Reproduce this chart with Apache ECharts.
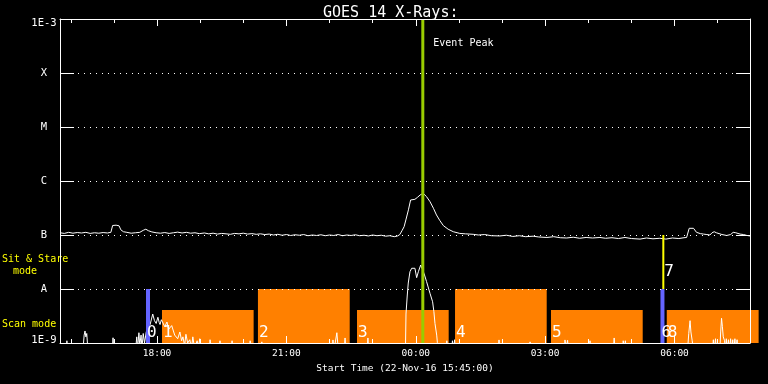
<!DOCTYPE html>
<html><head><meta charset="utf-8">
<script src="https://cdn.jsdelivr.net/npm/echarts@6/dist/echarts.min.js"></script>
<style>html,body{margin:0;padding:0;background:#000}#c{width:768px;height:384px}</style>
</head><body><div id="c"></div>
<script>
const FONT = '"DejaVu Sans Mono", monospace';
const ORANGE = '#ff8000';
const BLUE = '#6464ff';
const YELLOW = '#ffff00';
const PEAKCOL = '#99cc00';

// axes
const yLevels = [1e-9, 1e-8, 1e-7, 1e-6, 1e-5, 1e-4, 1e-3];
const yLabels = ['1E-9', 'A', 'B', 'C', 'M', 'X', '1E-3'];
const tickHours = [18, 21, 24, 27, 30];
const tickLabels = ['18:00', '21:00', '00:00', '03:00', '06:00'];
const minorHours = [16, 17, 19, 20, 22, 23, 25, 26, 28, 29, 31];
const xMin = 15.75, xMax = 31.75;   // 22-Nov-16 15:45 -> 23-Nov 07:45 (hours from 22-Nov 00:00)

// GOES 1-8 A channel, time (h) and flux (x1e-7 W/m2)
const longTime = [15.75,15.85,15.95,16.05,16.15,16.25,16.35,16.45,16.55,16.65,16.75,16.85,16.93,16.97,17.05,17.12,17.16,17.22,17.30,17.40,17.50,17.60,17.68,17.74,17.80,17.88,17.98,18.08,18.18,18.28,18.38,18.48,18.58,18.68,18.78,18.88,18.98,19.1,19.2,19.3,19.4,19.5,19.6,19.7,19.8,19.9,20.0,20.1,20.2,20.3,20.4,20.5,20.6,20.7,20.8,20.9,21.0,21.1,21.2,21.3,21.4,21.5,21.6,21.7,21.8,21.9,22.0,22.1,22.2,22.3,22.4,22.5,22.6,22.7,22.8,22.9,23.0,23.1,23.2,23.3,23.4,23.5,23.58,23.63,23.68,23.73,23.77,23.83,23.88,23.98,24.04,24.10,24.17,24.25,24.33,24.41,24.48,24.56,24.64,24.75,24.87,25.02,25.15,25.33,25.45,25.6,25.75,25.95,26.1,26.25,26.4,26.55,26.72,26.85,27.04,27.2,27.35,27.5,27.65,27.8,27.95,28.1,28.27,28.4,28.55,28.7,28.85,29.0,29.2,29.35,29.5,29.66,29.8,29.95,30.1,30.22,30.28,30.34,30.38,30.44,30.51,30.6,30.67,30.75,30.82,30.87,30.92,30.97,31.01,31.1,31.21,31.3,31.36,31.42,31.52,31.6,31.68,31.75];
const longFlux = [1.10,1.07,1.12,1.08,1.11,1.09,1.12,1.07,1.10,1.08,1.11,1.09,1.12,1.50,1.52,1.48,1.25,1.15,1.12,1.08,1.10,1.12,1.22,1.28,1.20,1.14,1.10,1.08,1.11,1.07,1.10,1.13,1.09,1.12,1.08,1.10,1.06,1.09,1.05,1.08,1.04,1.07,1.05,1.03,1.07,1.05,1.08,1.04,1.06,1.03,1.05,1.02,1.04,1.00,1.03,0.99,1.02,0.98,1.01,0.99,1.02,0.97,1.00,0.98,1.01,0.97,1.00,0.98,1.02,0.97,1.00,0.98,1.01,0.97,0.99,0.96,1.00,0.97,0.99,0.95,0.97,0.93,0.96,1.02,1.20,1.43,1.90,2.93,4.45,4.58,4.99,5.50,5.92,5.12,4.14,3.12,2.35,1.84,1.49,1.28,1.15,1.07,1.05,1.03,1.00,1.02,0.97,0.96,0.99,0.94,0.97,0.93,0.95,0.92,0.90,0.93,0.89,0.88,0.91,0.87,0.90,0.88,0.90,0.87,0.89,0.86,0.90,0.86,0.84,0.88,0.85,0.87,0.84,0.88,0.86,0.89,0.90,1.33,1.43,1.33,1.12,1.06,1.04,1.02,1.00,1.10,1.15,1.10,1.04,1.02,0.98,1.02,1.12,1.10,1.04,1.02,0.98,0.96];

// GOES 0.5-4 A channel, time (h) and flux (x1e-9 W/m2); values below 1 fall under the plot floor
const shortTime = [15.75,15.89,15.91,15.93,16.28,16.31,16.33,16.35,16.37,16.40,16.96,16.98,17.00,17.50,17.53,17.55,17.58,17.60,17.63,17.65,17.68,17.71,17.75,17.79,17.84,17.88,17.90,17.94,17.98,18.02,18.05,18.07,18.10,18.14,18.18,18.23,18.27,18.30,18.34,18.37,18.41,18.44,18.48,18.53,18.57,18.60,18.64,18.67,18.71,18.76,18.80,18.83,18.87,18.93,18.96,18.99,19.03,19.21,19.23,19.26,19.44,19.46,19.48,19.72,19.74,19.76,20.14,20.16,20.18,20.41,20.43,20.45,22.06,22.08,22.10,22.14,22.17,22.20,22.34,22.36,22.38,22.87,22.89,22.91,23.76,23.773,23.803,23.826,23.865,23.905,23.98,24.02,24.06,24.114,24.137,24.19,24.25,24.33,24.39,24.42,24.445,24.485,24.50,24.52,24.70,24.72,24.74,24.83,24.85,24.88,24.90,24.92,25.91,25.93,25.95,26.63,26.65,26.67,27.44,27.46,27.49,27.52,27.54,28.02,28.04,28.06,28.58,28.60,28.62,28.79,28.81,28.84,28.86,28.88,30.30,30.33,30.36,30.38,30.41,30.44,30.88,30.90,30.92,30.95,30.97,31.05,31.07,31.09,31.11,31.13,31.16,31.18,31.20,31.22,31.25,31.27,31.30,31.32,31.35,31.37,31.40,31.42,31.45,31.47,31.75];
const shortFlux = [0.7,0.7,1.1,0.7,0.7,1.4,1.67,1.3,1.5,0.7,0.7,1.25,0.7,0.7,1.3,0.8,1.55,0.9,1.4,0.8,1.5,1.0,1.6,2.0,2.2,2.35,3.44,2.6,2.3,3.0,2.4,2.2,2.7,2.5,2.0,2.45,1.8,1.7,2.1,2.0,1.4,1.5,1.2,1.6,1.1,1.3,0.9,1.45,1.0,1.15,0.8,1.3,0.8,1.1,0.8,1.2,0.7,0.7,1.15,0.7,0.7,1.1,0.7,0.7,1.1,0.7,0.7,1.1,0.7,0.7,1.05,0.7,0.7,1.14,0.7,0.7,1.55,0.8,0.7,1.24,0.7,0.7,1.24,0.7,0.7,3.44,7.74,12.9,20.9,24.2,24.2,16.2,20.9,27.8,27.8,19.5,13.7,8.3,5.8,3.8,2.3,1.4,1.03,0.7,0.7,1.1,0.7,0.7,1.1,0.8,1.15,0.7,0.7,1.14,0.7,0.7,1.05,0.7,0.7,1.14,0.8,1.12,0.7,0.7,1.1,0.7,0.7,1.24,0.7,0.7,1.1,0.8,1.1,0.7,0.7,1.5,2.59,1.6,1.1,0.7,0.7,1.15,0.7,1.2,0.7,0.7,1.6,2.87,2.0,1.3,1.1,0.7,1.2,0.7,1.15,0.7,1.2,0.7,1.15,0.7,1.2,0.7,1.15,0.7,0.7];

// observing-mode blocks (orange)
const modeStart = [18.115, 20.34, 22.637, 24.91, 27.135, 29.82];
const modeEnd   = [20.24, 22.468, 24.763, 27.036, 29.262, 31.95];
const modeTop   = [4.08e-9, 1e-8, 4.08e-9, 1e-8, 4.08e-9, 4.08e-9];
const modeLabel = ['1', '2', '3', '4', '5', '8'];

// markers
const blueTime = [17.79, 29.72];
const blueLabel = ['0', '6'];
const yellowTime = [29.74];
const yellowLabel = ['7'];
const peakTime = 24.163;
const peakLabel = 'Event Peak';

const chart = echarts.init(document.getElementById('c'), null, {renderer: 'canvas'});

function baseX(extra) {
  return Object.assign({
    type: 'value', min: xMin, max: xMax, gridIndex: 0,
    splitLine: {show: false},
    axisLine: {show: false},
    axisLabel: {show: false},
    z: 10
  }, extra);
}
function tickStyle(len, vals) {
  return {show: true, inside: true, length: len, customValues: vals, lineStyle: {color: '#fff', width: 1}};
}

function vbarSeries(times, lo, hi, color, width, labels, z, extraText) {
  return {
    type: 'custom', z: z, clip: false, silent: true,
    data: times.map(t => [t, lo, hi]),
    renderItem: function (params, api) {
      const a = api.coord([api.value(0), api.value(1)]);
      const b = api.coord([api.value(0), api.value(2)]);
      const children = [{type: 'rect', shape: {x: a[0] - width / 2, y: b[1], width: width, height: a[1] - b[1]}, style: {fill: color}}];
      if (labels) {
        const lab = labels[params.dataIndex];
        children.push(labels.pos(lab, a, b, width));
      }
      if (extraText) children.push(extraText(a, b));
      return {type: 'group', children: children};
    }
  };
}

const blueLabels = Object.assign(blueLabel.slice(), {pos: (lab, a, b, w) => ({type: 'text', x: a[0] - w / 2 + 1, y: a[1] - 10, style: {text: lab, fill: '#fff', font: '16px ' + FONT, verticalAlign: 'middle'}})});
const yellowLabels = Object.assign(yellowLabel.slice(), {pos: (lab, a, b, w) => ({type: 'text', x: a[0] + 1, y: a[1] - 17, style: {text: lab, fill: '#fff', font: '16px ' + FONT, verticalAlign: 'middle'}})});

const option = {
  backgroundColor: '#000',
  animation: false,
  title: {
    text: 'GOES 14 X-Rays:', left: 318, top: 1,
    textStyle: {color: '#fff', fontSize: 15, fontWeight: 'normal', fontFamily: FONT}
  },
  grid: {left: 60, top: 19, width: 690, height: 324, containLabel: false},
  xAxis: [
    baseX({
      position: 'bottom',
      axisLine: {show: true, lineStyle: {color: '#fff', width: 1}},
      axisTick: tickStyle(7, tickHours),
      axisLabel: {show: true, customValues: tickHours, color: '#fff', fontSize: 9.5, fontFamily: FONT, margin: 6,
        formatter: v => tickLabels[tickHours.indexOf(Math.round(v))] || ''},
      name: 'Start Time (22-Nov-16 15:45:00)', nameLocation: 'middle', nameGap: 19,
      nameTextStyle: {color: '#fff', fontSize: 9.5, fontFamily: FONT}
    }),
    baseX({position: 'bottom', axisTick: tickStyle(4, minorHours)}),
    baseX({position: 'top', axisLine: {show: true, lineStyle: {color: '#fff', width: 1}}, axisTick: tickStyle(7, tickHours)}),
    baseX({position: 'top', axisTick: tickStyle(4, minorHours)})
  ],
  yAxis: [
    {
      type: 'log', logBase: 10, min: 1e-9, max: 1e-3, splitNumber: 6, position: 'left', z: 10,
      axisLine: {show: true, lineStyle: {color: '#fff', width: 1}},
      axisTick: {show: true, inside: true, length: 14, lineStyle: {color: '#fff', width: 1}},
      splitLine: {show: true, lineStyle: {color: '#fff', width: 1, type: [1, 5]}},
      axisLabel: {
        show: true, showMinLabel: true, showMaxLabel: true, color: '#fff', fontSize: 10.5, fontFamily: FONT,
        margin: 16, align: 'center',
        formatter: function (v) {
          const i = yLevels.findIndex(l => Math.abs(Math.log10(l) - Math.log10(v)) < 0.01);
          if (i < 0) return '';
          if (i === 0) return '{b|' + yLabels[i] + '}';
          if (i === yLevels.length - 1) return '{t|' + yLabels[i] + '}';
          return yLabels[i];
        },
        rich: {
          t: {color: '#fff', fontSize: 10.5, fontFamily: FONT, padding: [8, 0, 0, 0]},
          b: {color: '#fff', fontSize: 10.5, fontFamily: FONT, padding: [0, 0, 6, 0]}
        }
      }
    },
    {
      type: 'log', logBase: 10, min: 1e-9, max: 1e-3, splitNumber: 6, position: 'right', z: 10,
      axisLine: {show: true, lineStyle: {color: '#fff', width: 1}},
      axisTick: {show: true, inside: true, length: 14, lineStyle: {color: '#fff', width: 1}},
      splitLine: {show: false},
      axisLabel: {show: false}
    }
  ],
  graphic: [
    {type: 'text', x: 2, y: 259, style: {text: 'Sit & Stare', fill: YELLOW, font: '10px ' + FONT, verticalAlign: 'middle'}},
    {type: 'text', x: 13, y: 271, style: {text: 'mode', fill: YELLOW, font: '10px ' + FONT, verticalAlign: 'middle'}},
    {type: 'text', x: 2, y: 324, style: {text: 'Scan mode', fill: YELLOW, font: '10px ' + FONT, verticalAlign: 'middle'}}
  ],
  series: [
    {
      type: 'custom', z: 1, clip: false, silent: true,
      data: modeStart.map((s, i) => [s, modeEnd[i], modeTop[i]]),
      renderItem: function (params, api) {
        const a = api.coord([api.value(0), 1e-9]);
        const b = api.coord([api.value(1), api.value(2)]);
        return {type: 'group', children: [
          {type: 'rect', shape: {x: a[0], y: b[1], width: b[0] - a[0], height: a[1] - b[1]}, style: {fill: ORANGE}},
          {type: 'text', x: a[0] + 1, y: a[1] - 10, style: {text: modeLabel[params.dataIndex], fill: '#fff', font: '16px ' + FONT, verticalAlign: 'middle'}}
        ]};
      }
    },
    {
      type: 'line', z: 2, showSymbol: false, symbol: 'none', clip: true, silent: true,
      data: longTime.map((t, i) => [t, longFlux[i] * 1e-7]),
      lineStyle: {color: '#fff', width: 1}
    },
    {
      type: 'line', z: 2, showSymbol: false, symbol: 'none', clip: true, silent: true,
      data: shortTime.map((t, i) => [t, shortFlux[i] * 1e-9]),
      lineStyle: {color: '#fff', width: 1}
    },
    vbarSeries(blueTime, 1e-9, 1e-8, BLUE, 4, blueLabels, 3),
    vbarSeries(yellowTime, 1e-8, 1e-7, YELLOW, 2, yellowLabels, 3),
    vbarSeries([peakTime], 1e-9, 1e-3, PEAKCOL, 3, null, 3, (a, b) => ({
      type: 'text', x: a[0] + 10.5, y: b[1] + 24,
      style: {text: peakLabel, fill: '#fff', font: '10px ' + FONT, verticalAlign: 'middle'}
    }))
  ]
};
chart.setOption(option);
</script>
</body></html>
